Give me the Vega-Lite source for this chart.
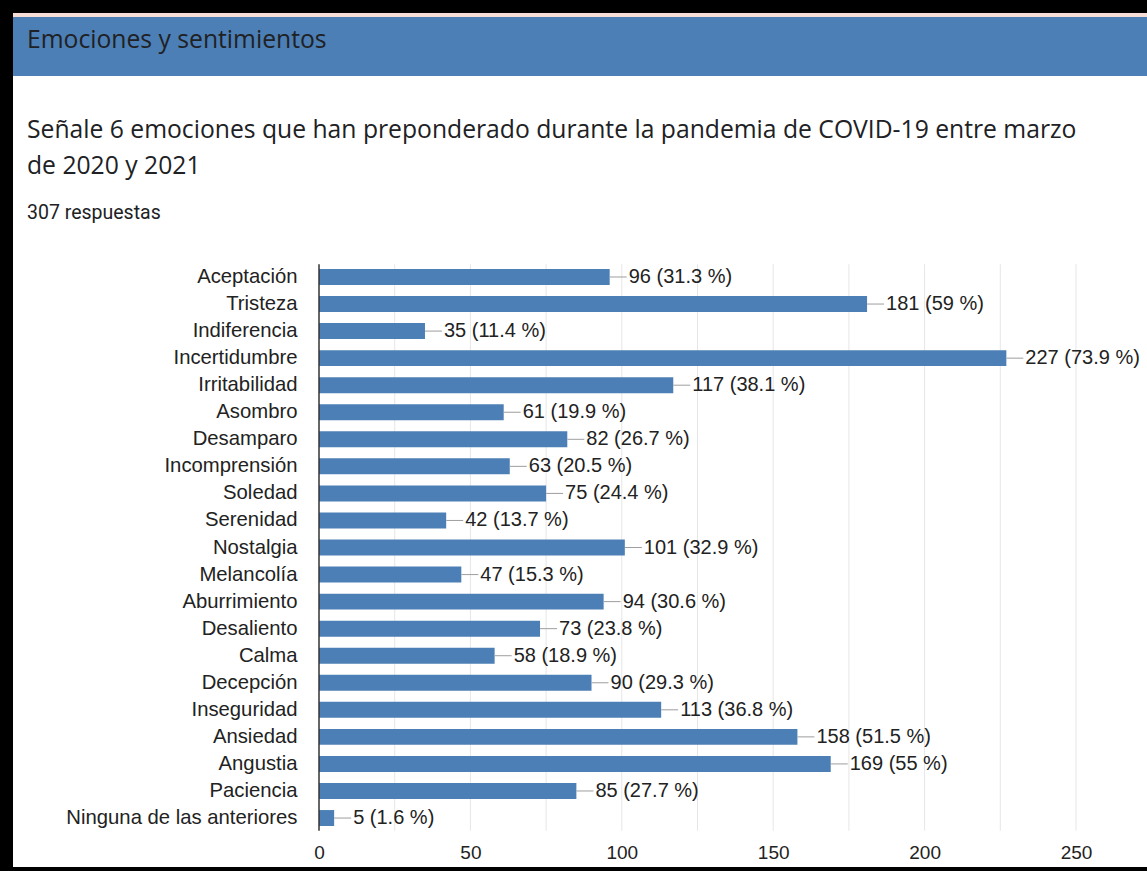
{
  "$schema": "https://vega.github.io/schema/vega-lite/v6.json",
  "background": "#000000",
  "padding": {"left": 13, "top": 13, "right": 0, "bottom": 4},
  "spacing": 0,
  "config": {"view": {"stroke": null}, "concat": {"spacing": 0}},
  "datasets": {
    "emo": [
      {"cat": "Aceptación", "n": 96, "pct": 31.3, "label": "96 (31.3 %)"},
      {"cat": "Tristeza", "n": 181, "pct": 59, "label": "181 (59 %)"},
      {"cat": "Indiferencia", "n": 35, "pct": 11.4, "label": "35 (11.4 %)"},
      {"cat": "Incertidumbre", "n": 227, "pct": 73.9, "label": "227 (73.9 %)"},
      {"cat": "Irritabilidad", "n": 117, "pct": 38.1, "label": "117 (38.1 %)"},
      {"cat": "Asombro", "n": 61, "pct": 19.9, "label": "61 (19.9 %)"},
      {"cat": "Desamparo", "n": 82, "pct": 26.7, "label": "82 (26.7 %)"},
      {"cat": "Incomprensión", "n": 63, "pct": 20.5, "label": "63 (20.5 %)"},
      {"cat": "Soledad", "n": 75, "pct": 24.4, "label": "75 (24.4 %)"},
      {"cat": "Serenidad", "n": 42, "pct": 13.7, "label": "42 (13.7 %)"},
      {"cat": "Nostalgia", "n": 101, "pct": 32.9, "label": "101 (32.9 %)"},
      {"cat": "Melancolía", "n": 47, "pct": 15.3, "label": "47 (15.3 %)"},
      {"cat": "Aburrimiento", "n": 94, "pct": 30.6, "label": "94 (30.6 %)"},
      {"cat": "Desaliento", "n": 73, "pct": 23.8, "label": "73 (23.8 %)"},
      {"cat": "Calma", "n": 58, "pct": 18.9, "label": "58 (18.9 %)"},
      {"cat": "Decepción", "n": 90, "pct": 29.3, "label": "90 (29.3 %)"},
      {"cat": "Inseguridad", "n": 113, "pct": 36.8, "label": "113 (36.8 %)"},
      {"cat": "Ansiedad", "n": 158, "pct": 51.5, "label": "158 (51.5 %)"},
      {"cat": "Angustia", "n": 169, "pct": 55, "label": "169 (55 %)"},
      {"cat": "Paciencia", "n": 85, "pct": 27.7, "label": "85 (27.7 %)"},
      {"cat": "Ninguna de las anteriores", "n": 5, "pct": 1.6, "label": "5 (1.6 %)"}
    ],
    "ticks": [
      {"v": 25}, {"v": 50}, {"v": 75}, {"v": 100}, {"v": 125},
      {"v": 150}, {"v": 175}, {"v": 200}, {"v": 225}, {"v": 250}
    ]
  },
  "vconcat": [
    {
      "width": 1134, "height": 4,
      "view": {"fill": "#f6ddd6", "stroke": null},
      "data": {"values": []},
      "mark": "point",
      "encoding": {}
    },
    {
      "width": 1134, "height": 59,
      "view": {"fill": "#4c7fb5", "stroke": null},
      "title": {
        "text": "Emociones y sentimientos",
        "orient": "top", "anchor": "start", "frame": "group",
        "offset": -36, "dx": 14,
        "font": "Open Sans", "fontSize": 24.7, "fontWeight": "normal", "color": "#202124"
      },
      "data": {"values": []},
      "mark": "point",
      "encoding": {}
    },
    {
      "width": 1134, "height": 186,
      "view": {"fill": "#ffffff", "stroke": null},
      "title": {
        "text": ["Señale 6 emociones que han preponderado durante la pandemia de COVID-19 entre marzo", "de 2020 y 2021"],
        "subtitle": "307 respuestas",
        "orient": "top", "anchor": "start", "frame": "group",
        "offset": -146, "dx": 14,
        "font": "Open Sans", "fontSize": 24.7, "fontWeight": "normal", "color": "#202124",
        "lineHeight": 36,
        "subtitleFont": "Roboto", "subtitleFontSize": 19.5, "subtitleColor": "#202124",
        "subtitlePadding": 25
      },
      "data": {"values": []},
      "mark": "point",
      "encoding": {}
    },
    {
      "width": 1134, "height": 605,
      "view": {"fill": "#ffffff", "stroke": null},
      "data": {"name": "emo"},
      "encoding": {
        "y": {
          "field": "cat", "type": "nominal",
          "scale": {
            "domain": ["Aceptación", "Tristeza", "Indiferencia", "Incertidumbre", "Irritabilidad", "Asombro", "Desamparo", "Incomprensión", "Soledad", "Serenidad", "Nostalgia", "Melancolía", "Aburrimiento", "Desaliento", "Calma", "Decepción", "Inseguridad", "Ansiedad", "Angustia", "Paciencia", "Ninguna de las anteriores"],
            "paddingInner": 0.41, "paddingOuter": 0.887, "align": 0.146, "round": false
          },
          "axis": {
            "orient": "left", "offset": -306, "domain": false, "ticks": false, "tickSize": 0,
            "grid": false, "labelPadding": 22, "labelFont": "Liberation Sans", "labelFontSize": 20.3,
            "labelColor": "#222222", "labelLimit": 0, "title": null
          }
        }
      },
      "layer": [
        {
          "data": {"name": "ticks"},
          "mark": {"type": "rule", "color": "#e6e6e6", "strokeWidth": 1},
          "encoding": {
            "x": {"field": "v", "type": "quantitative"},
            "y": {"datum": "Aceptación", "type": "nominal", "bandPosition": -0.3},
            "y2": {"datum": "Ninguna de las anteriores", "bandPosition": 1.3}
          }
        },
        {
          "mark": {"type": "bar", "color": "#4c7fb5"},
          "encoding": {
            "x": {
              "field": "n", "type": "quantitative",
              "scale": {"domain": [-101.06, 273.45], "nice": false, "zero": false},
              "axis": {
                "orient": "bottom", "offset": -24, "values": [0, 50, 100, 150, 200, 250],
                "domain": false, "ticks": false, "tickSize": 0, "grid": false,
                "labelPadding": 0, "labelFont": "Liberation Sans", "labelFontSize": 19,
                "labelColor": "#222222", "title": null
              }
            },
            "x2": {"datum": 0}
          }
        },
        {
          "data": {"values": [{"z": 0}]},
          "mark": {"type": "rule", "color": "#333333", "strokeWidth": 1.5},
          "encoding": {
            "x": {"field": "z", "type": "quantitative"},
            "y": {"datum": "Aceptación", "type": "nominal", "bandPosition": -0.3},
            "y2": {"datum": "Ninguna de las anteriores", "bandPosition": 1.3}
          }
        },
        {
          "mark": {"type": "rule", "color": "#9e9e9e", "strokeWidth": 1, "x2Offset": 17},
          "encoding": {
            "x": {"field": "n", "type": "quantitative"},
            "x2": {"field": "n"}
          }
        },
        {
          "mark": {"type": "text", "align": "left", "baseline": "middle", "dx": 19, "font": "Liberation Sans", "fontSize": 20, "color": "#222222"},
          "encoding": {
            "x": {"field": "n", "type": "quantitative"},
            "text": {"field": "label"}
          }
        }
      ]
    }
  ]
}
